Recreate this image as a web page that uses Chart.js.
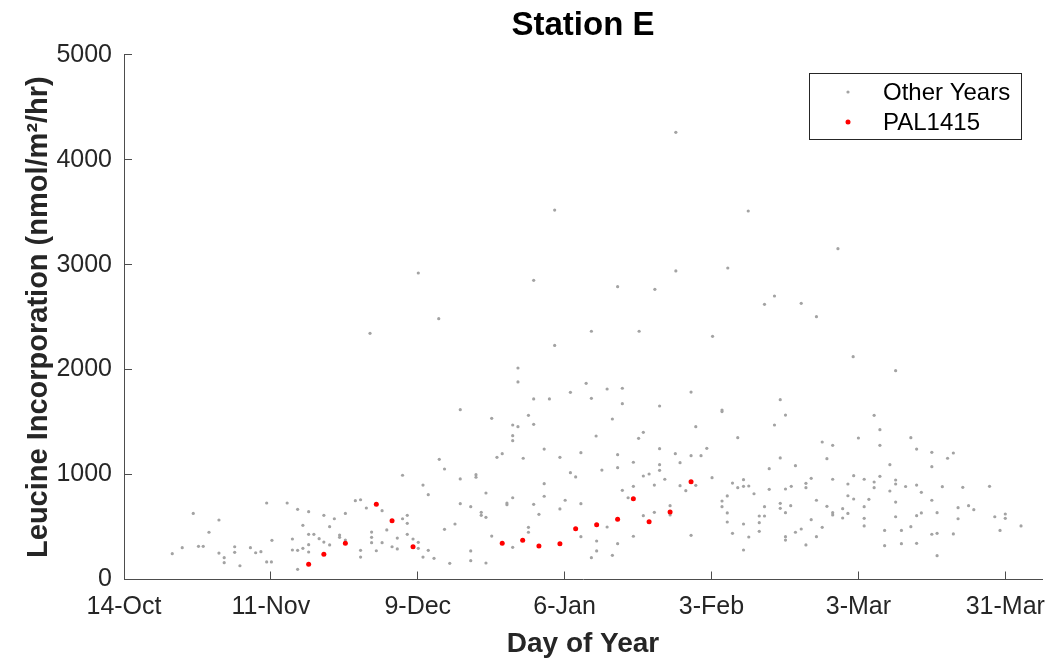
<!DOCTYPE html>
<html>
<head>
<meta charset="utf-8">
<script src="https://cdn.jsdelivr.net/npm/chart.js@4.4.0/dist/chart.umd.min.js"></script>
<style>
    html, body { margin: 0; padding: 0; background: #fff; }
    #wrap { width: 1052px; height: 658px; position: relative; }
</style>
</head>
<body>
<div id="wrap"><canvas id="leucineChart"></canvas></div>
<script>
// days counted from 14-Oct
const tickDays = [0, 28, 56, 84, 112, 140, 168];
const tickLabels = ['14-Oct', '11-Nov', '9-Dec', '6-Jan', '3-Feb', '3-Mar', '31-Mar'];

const otherDays = [
    9.2, 11.1, 13.2, 14.2, 15.1, 16.2, 18.1, 18.1, 19.1, 19.1, 21.1, 21.1, 22.1, 24.1, 25.1, 26.1,
    27.2, 27.2, 28.1, 28.2, 31.1, 32.1, 32.1, 33.1, 33.1, 33.1, 34.1, 34.1, 35.2, 35.2, 35.2, 35.2,
    36.2, 37.2, 38.1, 38.1, 39.2, 39.2, 40.1, 41.1, 41.1, 42.2, 42.2, 44.1, 45.1, 45.1, 45.1, 46.2,
    47.2, 47.2, 47.2, 48.1, 49.2, 49.2, 50.1, 51.1, 52.1, 52.1, 53.1, 53.1, 54.0, 54.0, 54.0, 55.1,
    56.1, 56.1,
    105.2, 82.1, 56.1, 78.1, 105.2, 94.1, 101.2, 60.0, 46.9, 89.1, 98.2, 112.2, 82.1, 75.1, 75.1, 88.1,
    78.1, 81.1, 85.1, 89.1, 92.1, 95.0, 95.0, 102.1, 108.1, 114.0,
    114.0, 64.1, 70.1, 77.1, 74.1, 75.1, 78.1, 93.1, 74.1, 74.1,
    90.0, 99.0, 98.1, 109.0, 60.1, 61.1, 71.1, 72.1, 76.1, 80.1,
    83.1, 87.1, 94.1, 91.1, 94.1, 97.1, 102.1, 105.1, 102.1, 102.1,
    106.0, 108.1, 110.0, 111.1, 112.1, 64.1, 67.1, 67.1, 85.1, 86.1,
    99.0, 100.1, 103.1, 101.1, 97.1, 57.0, 58.0, 69.0, 74.1, 73.0,
    73.0, 80.1, 80.1, 84.1, 83.1, 78.1, 79.1, 87.1, 95.0, 96.1,
    106.0, 107.1, 109.0, 64.1, 66.1, 68.1, 68.1, 69.0, 61.1, 63.1,
    70.1, 77.1, 77.1, 74.1, 87.1, 90.1, 90.1, 89.1, 92.1, 94.1,
    93.1, 97.1, 99.0, 101.1, 104.1, 104.1, 108.1, 114.0, 114.0, 57.0,
    58.0, 59.1, 62.1, 66.1, 66.1, 69.0,
    139.0, 147.1, 125.1, 126.1, 124.0, 117.0, 125.1, 123.0, 128.0, 133.1,
    135.1, 134.0, 140.0, 143.0, 144.1, 144.1, 150.0, 151.1, 154.0, 154.0,
    157.0, 158.1, 146.0, 139.1, 141.1, 143.0, 143.0, 144.1, 147.1, 147.1,
    149.0, 151.1, 156.0, 159.9, 165.0, 135.1, 131.0, 130.0, 130.0, 138.0,
    138.0, 139.1, 142.0, 146.0, 147.1, 152.0, 154.0, 127.2, 126.1, 123.0,
    120.1, 116.0, 117.0, 118.1, 118.1, 119.1, 115.0, 115.0, 115.0, 116.0,
    118.1, 119.1, 118.1, 121.1, 122.1, 122.1, 121.1, 121.1, 125.1, 125.1,
    126.1, 127.1, 126.1, 126.1, 128.0, 129.1, 130.0, 131.0, 132.0, 132.0,
    133.1, 134.0, 135.1, 135.1, 137.0, 137.0, 138.0, 141.1, 141.1, 141.1,
    145.0, 145.0, 147.1, 148.2, 148.2, 150.0, 151.1, 151.1, 152.0, 154.0,
    155.0, 155.0, 155.0, 158.1, 159.0, 159.0, 161.0, 162.0, 166.0, 168.0,
    168.0, 167.0, 171.0,
    119.0, 136.1, 115.1, 124.0, 122.1, 129.1, 132.0
];
const otherValues = [
    246, 303, 630, 316, 316, 450, 567, 252, 208, 160, 312, 259, 131, 303, 255, 265,
    729, 167, 167, 373, 729, 386, 281, 669, 278, 97, 516, 297, 646, 430, 332, 262,
    430, 389, 611, 357, 503, 329, 579, 424, 402, 630, 376, 751, 760, 278, 214, 681,
    452, 402, 351, 274, 656, 351, 472, 312, 395, 291, 993, 579, 611, 535, 430, 386,
    354, 297,
    4260, 3520, 2920, 2850, 2940, 2790, 2765, 2485, 2345, 2365, 2365, 2317, 2230, 2015, 1882, 1869,
    1720, 1720, 1783, 1726, 1815, 1822, 1675, 1653, 1786, 1615,
    1600, 1618, 1536, 1564, 1472, 1456, 1478, 1529, 1370, 1323,
    1367, 1402, 1345, 1456, 1145, 1053, 1164, 1199, 1155, 1243,
    1164, 1208, 1189, 1043, 1065, 1117, 1246, 1199, 1094, 1040,
    1113, 1180, 1180, 1250, 970, 958, 999, 974, 1018, 977,
    986, 1005, 955, 900, 888, 900, 808, 824, 779, 729,
    713, 913, 793, 755, 672, 716, 621, 722, 850, 779,
    894, 846, 897, 722, 694, 640, 611, 592, 478, 529,
    414, 497, 450, 307, 408, 367, 272, 208, 500, 341,
    230, 412, 608, 640, 703, 615, 421, 748, 694, 214,
    278, 202, 154, 272, 179, 157,
    2123, 1990, 1713, 1567, 1472, 1351, 1158, 1056, 1084, 1310,
    1278, 1151, 1348, 1564, 1427, 1278, 1351, 1243, 1212, 1075,
    1155, 1205, 1094, 989, 955, 929, 875, 983, 948, 910,
    886, 900, 884, 878, 888, 955, 964, 916, 875, 910,
    798, 767, 764, 843, 738, 831, 755, 888, 862, 859,
    817, 919, 875, 951, 888, 891, 796, 634, 548, 440,
    529, 405, 281, 605, 694, 605, 541, 459, 726, 678,
    637, 703, 408, 376, 450, 481, 329, 570, 755, 408,
    497, 697, 637, 615, 675, 586, 630, 694, 583, 510,
    468, 322, 598, 468, 341, 503, 608, 345, 634, 431,
    637, 440, 227, 434, 684, 579, 703, 665, 598, 624,
    583, 468, 510,
    3511, 3152, 2968, 2701, 2622, 2631, 2504
];

const palDays = [35.2, 38.1, 42.2, 48.1, 51.1, 55.1, 72.1, 76.0, 79.1, 83.1, 86.1, 90.1, 94.1, 97.1, 100.1, 104.1, 108.1];
const palValues = [145, 240, 345, 716, 560, 313, 345, 373, 319, 341, 484, 522, 573, 770, 551, 643, 932];

const FONT = '"Liberation Sans", Arial, Helvetica, sans-serif';
const AXIS_COLOR = '#4d4d4d';
const TEXT_COLOR = '#262626';

const toPoints = (xs, ys) => xs.map((x, i) => ({ x: x, y: ys[i] }));

// boxed legend sitting inside the plot area, top right
const boxLegend = {
    id: 'boxLegend',
    afterDatasetsDraw(chart) {
        const { ctx, chartArea } = chart;
        const w = 212, h = 66;
        const x = Math.round(chartArea.right - 21 - w);
        const y = Math.round(chartArea.top + 18);
        ctx.save();
        ctx.fillStyle = '#fff';
        ctx.fillRect(x, y, w, h);
        ctx.strokeStyle = TEXT_COLOR;
        ctx.lineWidth = 1;
        ctx.strokeRect(x + 0.5, y + 0.5, w, h);
        ctx.font = '24px ' + FONT;
        ctx.textBaseline = 'middle';
        chart.data.datasets.forEach((ds, i) => {
            const cy = y + 20 + i * 30;
            ctx.beginPath();
            ctx.arc(x + 39, cy - 1, ds.pointRadius, 0, Math.PI * 2);
            ctx.fillStyle = ds.backgroundColor;
            ctx.fill();
            ctx.fillStyle = '#000';
            ctx.fillText(ds.label, x + 74, cy);
        });
        ctx.restore();
    }
};

new Chart(document.getElementById('leucineChart'), {
    type: 'scatter',
    data: {
        datasets: [{
            label: 'Other Years',
            data: toPoints(otherDays, otherValues),
            backgroundColor: '#a3a3a3',
            borderWidth: 0,
            pointRadius: 1.6,
            order: 1,
        }, {
            label: 'PAL1415',
            data: toPoints(palDays, palValues),
            backgroundColor: '#ff0000',
            borderWidth: 0,
            pointRadius: 2.5,
            order: 0,
        }],
    },
    options: {
        responsive: true,
        maintainAspectRatio: false,
        animation: false,
        layout: { padding: { left: 0, right: 10, top: 0, bottom: 0 } },
        plugins: {
            legend: { display: false },
            tooltip: { enabled: false },
            title: {
                display: true,
                text: 'Station E',
                fullSize: false,
                color: '#000',
                font: { family: FONT, size: 33, weight: 'bold', lineHeight: 1 },
                padding: { top: 9, bottom: 12.7 },
            },
        },
        scales: {
            x: {
                type: 'linear',
                min: 0,
                max: 175,
                afterBuildTicks: (scale) => {
                    scale.ticks = tickDays.map(v => ({ value: v }));
                },
                afterFit: (scale) => {
                    scale.height = 78.5;
                    scale.paddingLeft = 0;
                    scale.paddingRight = 0;
                },
                ticks: {
                    autoSkip: false,
                    maxRotation: 0,
                    padding: 21,
                    color: TEXT_COLOR,
                    font: { family: FONT, size: 25 },
                    callback: (value, index) => tickLabels[index],
                },
                grid: { drawOnChartArea: false, tickLength: -8, color: AXIS_COLOR },
                border: { color: AXIS_COLOR, width: 1 },
                title: {
                    display: true,
                    text: 'Day of Year',
                    color: TEXT_COLOR,
                    font: { family: FONT, size: 28, weight: 'bold', lineHeight: 1 },
                    padding: { top: 0, bottom: 0 },
                },
            },
            y: {
                min: 0,
                max: 5000,
                afterFit: (scale) => { scale.width = 124; },
                ticks: {
                    stepSize: 1000,
                    padding: 20,
                    color: TEXT_COLOR,
                    font: { family: FONT, size: 25 },
                    callback: (value) => String(value),
                },
                grid: { drawOnChartArea: false, tickLength: -8, color: AXIS_COLOR },
                border: { color: AXIS_COLOR, width: 1 },
                title: {
                    display: true,
                    text: 'Leucine Incorporation (nmol/m\u00b2/hr)',
                    color: TEXT_COLOR,
                    font: { family: FONT, size: 29, weight: 'bold', lineHeight: 1 },
                    padding: { top: 24, bottom: 0 },
                },
            },
        },
    },
    plugins: [boxLegend],
});
</script>
</body>
</html>
